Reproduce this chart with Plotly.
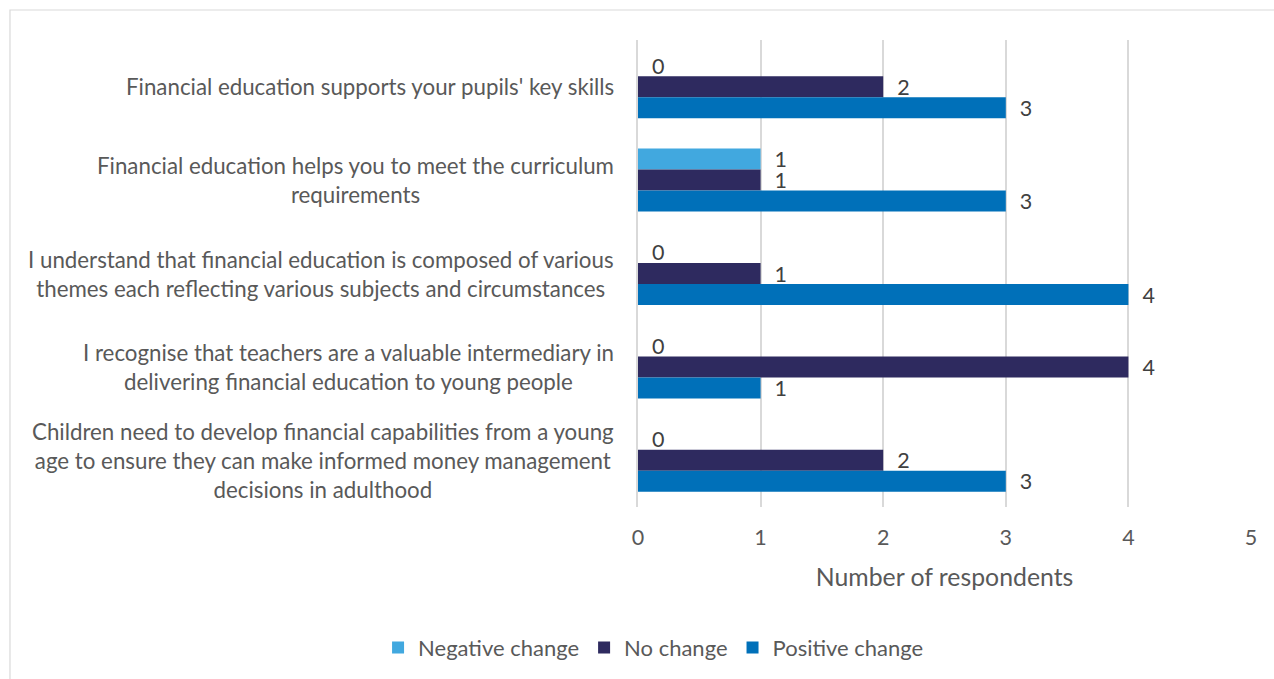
import plotly.graph_objects as go

# Survey statements, listed top to bottom, with their wrapped lines
statements = [
    ["Financial education supports your pupils' key skills"],
    ["Financial education helps you to meet the curriculum", "requirements"],
    ["I understand that financial education is composed of various",
     "themes each reflecting various subjects and circumstances"],
    ["I recognise that teachers are a valuable intermediary in",
     "delivering financial education to young people"],
    ["Children need to develop financial capabilities from a young",
     "age to ensure they can make informed money management",
     "decisions in adulthood"],
]
categories = [" ".join(lines) for lines in statements]

negative_change = [0, 1, 0, 0, 0]
no_change = [2, 1, 1, 4, 2]
positive_change = [3, 3, 4, 1, 3]

series = [
    ("Negative change", negative_change, "#41A8DF"),
    ("No change", no_change, "#2E2A5F"),
    ("Positive change", positive_change, "#0070B9"),
]

FONT = "Lato"
GREY = "#595959"
LABEL = "#404040"

fig = go.Figure()
for name, values, colour in series:
    fig.add_trace(go.Bar(
        name=name,
        y=categories,
        x=values,
        orientation="h",
        marker=dict(color=colour, line=dict(width=0)),
        text=values,
        texttemplate="\u00a0\u00a0%{x}",
        textposition="outside",
        constraintext="none",
        cliponaxis=False,
        textfont=dict(family=FONT, size=21.5, color=LABEL),
    ))

# Category labels: centred lines, right edge next to the value axis
for cat, lines in zip(categories, statements):
    fig.add_annotation(
        x=0, xref="paper", xanchor="right", xshift=-22,
        y=cat, yref="y", yanchor="middle",
        text="<br>".join(lines), align="center", showarrow=False,
        font=dict(family=FONT, size=22.3, color=GREY),
    )

# Light frame around the chart
fig.add_shape(type="rect", xref="paper", yref="paper",
              x0=-1.0245, x1=1.2, y0=-0.4, y1=1.0642,
              line=dict(color="#D9D9D9", width=1.2), fillcolor="rgba(0,0,0,0)",
              layer="below")

fig.update_layout(
    width=1274, height=679,
    margin=dict(l=638, r=23, t=40, b=172),
    paper_bgcolor="white", plot_bgcolor="white",
    barmode="group", bargap=0.325, bargroupgap=0,
    font=dict(family=FONT, color=GREY),
    showlegend=True,
    legend=dict(
        orientation="h", xref="container", yref="container",
        x=0.513, xanchor="center", y=0.046, yanchor="middle",
        font=dict(family=FONT, size=22, color=GREY),
        itemwidth=30,
    ),
    xaxis=dict(
        range=[0, 5], dtick=1, tick0=0,
        showgrid=True, gridcolor="#D9D9D9", gridwidth=1.5,
        zeroline=False, showline=False,
        ticks="outside", ticklen=0, ticklabelstandoff=11,
        tickfont=dict(family=FONT, size=21.5, color=GREY),
        title=dict(text="Number of respondents", standoff=19,
                   font=dict(family=FONT, size=24.8, color=GREY)),
    ),
    yaxis=dict(
        autorange="reversed", showticklabels=False,
        showgrid=False, zeroline=False,
        showline=True, linecolor="#D9D9D9", linewidth=1.5,
        ticks="",
    ),
)

fig.write_html("out.html")
